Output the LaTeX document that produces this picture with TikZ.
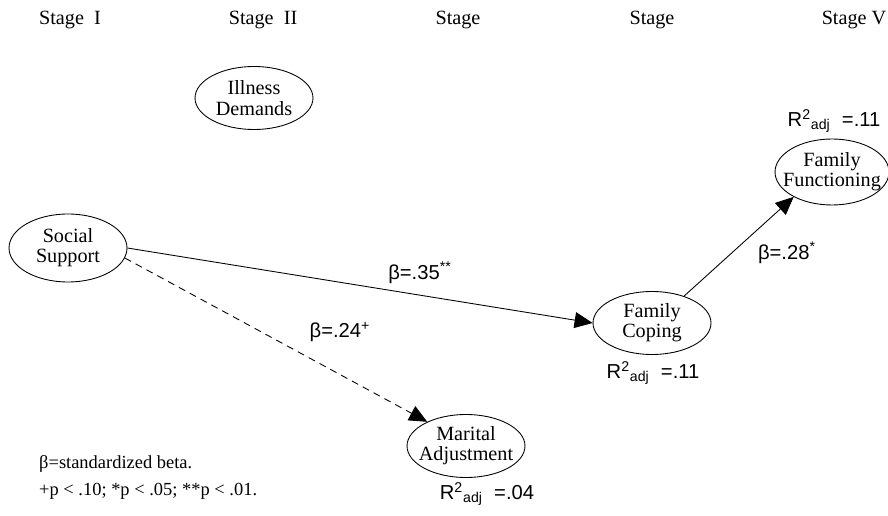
\documentclass[tikz,border=0pt]{standalone}
\usepackage{fontspec}
\setmainfont{Liberation Serif}
\setsansfont{Liberation Sans}
\usetikzlibrary{shapes.geometric}
\usetikzlibrary{arrows.meta}

\begin{document}
\begin{tikzpicture}[x=0.02cm,y=-0.02cm,
	latent/.style={ellipse,draw,line width=0.5pt,minimum width=2.36cm,minimum height=1.26cm,inner xsep=-7pt,inner ysep=0pt,align=center,font=\fontsize{11.5}{11.5}\selectfont},
	stagelab/.style={font=\fontsize{11.5}{12}\selectfont},
	coef/.style={font=\sffamily\fontsize{11.5}{12}\selectfont},
	rsq/.style={font=\sffamily\fontsize{11.5}{12}\selectfont},
	note/.style={font=\fontsize{10.5}{15.4}\selectfont,align=left,anchor=west},
	effect/.style={line width=0.5pt,-{Triangle[length=0.36cm,width=0.32cm]}}]
	\useasboundingbox (0,0) rectangle (888,516);
	\node[stagelab] (s1) at (70,20) {Stage\ \ I};
	\node[stagelab] (s2) at (263,20) {Stage\ \ II};
	\node[stagelab] (s3) at (458,20) {Stage};
	\node[stagelab] (s4) at (652,20) {Stage};
	\node[stagelab] (s5) at (854,20) {Stage V};
	\node[latent] (id) at (254,98) {Illness\\Demands};
	\node[latent,minimum height=1.36cm] (ss) at (68,248) {Social\\Support};
	\node[latent] (fc) at (652,323) {Family\\Coping};
	\node[latent,minimum width=2.28cm,minimum height=1.32cm] (ff) at (832,172) {Family\\Functioning};
	\node[latent] (ma) at (466,446) {Marital\\Adjustment};
	\node[rsq] (rff) at (834,121) {R\textsuperscript{2}\textsubscript{adj}\ \ =.11};
	\node[rsq] (rfc) at (653,373) {R\textsuperscript{2}\textsubscript{adj}\ \ =.11};
	\node[rsq] (rma) at (487,494) {R\textsuperscript{2}\textsubscript{adj}\ \ =.04};
	\draw[effect] (ss.east) -- (fc.west);
	\draw[effect,dash pattern=on 4pt off 3pt] (ss.-10) -- (ma.148);
	\draw[effect] (fc.40) -- (ff.213);
	\node[coef] (b1) at (420,273) {β=.35\textsuperscript{**}};
	\node[coef] (b2) at (340,332) {β=.24\textsuperscript{+}};
	\node[coef] (b3) at (787,253) {β=.28\textsuperscript{*}};
	\node[note] (nt) at (33,477) {β=standardized beta.\\+p < .10; *p < .05; **p < .01.};
\end{tikzpicture}
\end{document}
